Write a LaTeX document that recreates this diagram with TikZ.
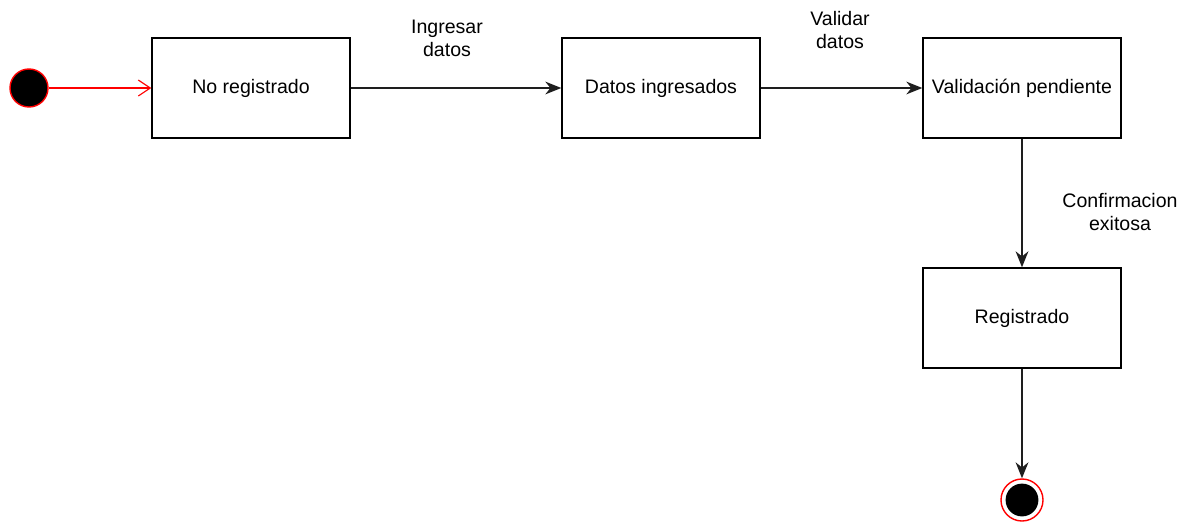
\documentclass[tikz,border=0pt]{standalone}
\usepackage{fontspec}
\setmainfont{Liberation Sans}
\usetikzlibrary{arrows.meta, positioning}
\definecolor{startred}{RGB}{255,0,0}
\definecolor{edgegray}{RGB}{30,30,30}

\begin{document}
\begin{tikzpicture}[x=0.025cm, y=-0.025cm,
    state/.style={draw, line width=1pt, minimum width=4.95cm, minimum height=2.5cm, font=\fontsize{13.9}{16.4}\selectfont},
    trans/.style={draw=edgegray, line width=1pt, -{Stealth[length=4mm, width=3.2mm]}},
    lbl/.style={align=center, font=\fontsize{13.9}{16.4}\selectfont}]
  \useasboundingbox (0,0) rectangle (1198,528);
  % initial state
  \node[circle, fill=black, draw=startred, line width=1pt, minimum size=0.95cm, inner sep=0pt] (init) at (29,88) {};
  % states
  \node[state] (noreg) at (251,88) {No registrado};
  \node[state] (ingr) at (661,88) {Datos ingresados};
  \node[state] (pend) at (1022,88) {Validación pendiente};
  \node[state] (reg) at (1022,318) {Registrado};
  % final state
  \node[circle, draw=startred, line width=1pt, minimum size=1.05cm, inner sep=0pt] (fin) at (1022,500) {};
  \fill[black] (fin.center) circle (0.41cm);
  % transitions
  \draw[startred, line width=0.8pt, -{Straight Barb[length=3mm, width=4mm]}] (init) -- (noreg);
  \draw[trans] (noreg) -- (ingr);
  \draw[trans] (ingr) -- (pend);
  \draw[trans] (pend) -- (reg);
  \draw[trans] (reg) -- (fin);
  % labels
  \node[lbl] at (447,38) {Ingresar\\datos};
  \node[lbl] at (840,30) {Validar\\datos};
  \node[lbl] at (1120,212) {Confirmacion\\exitosa};
\end{tikzpicture}
\end{document}
